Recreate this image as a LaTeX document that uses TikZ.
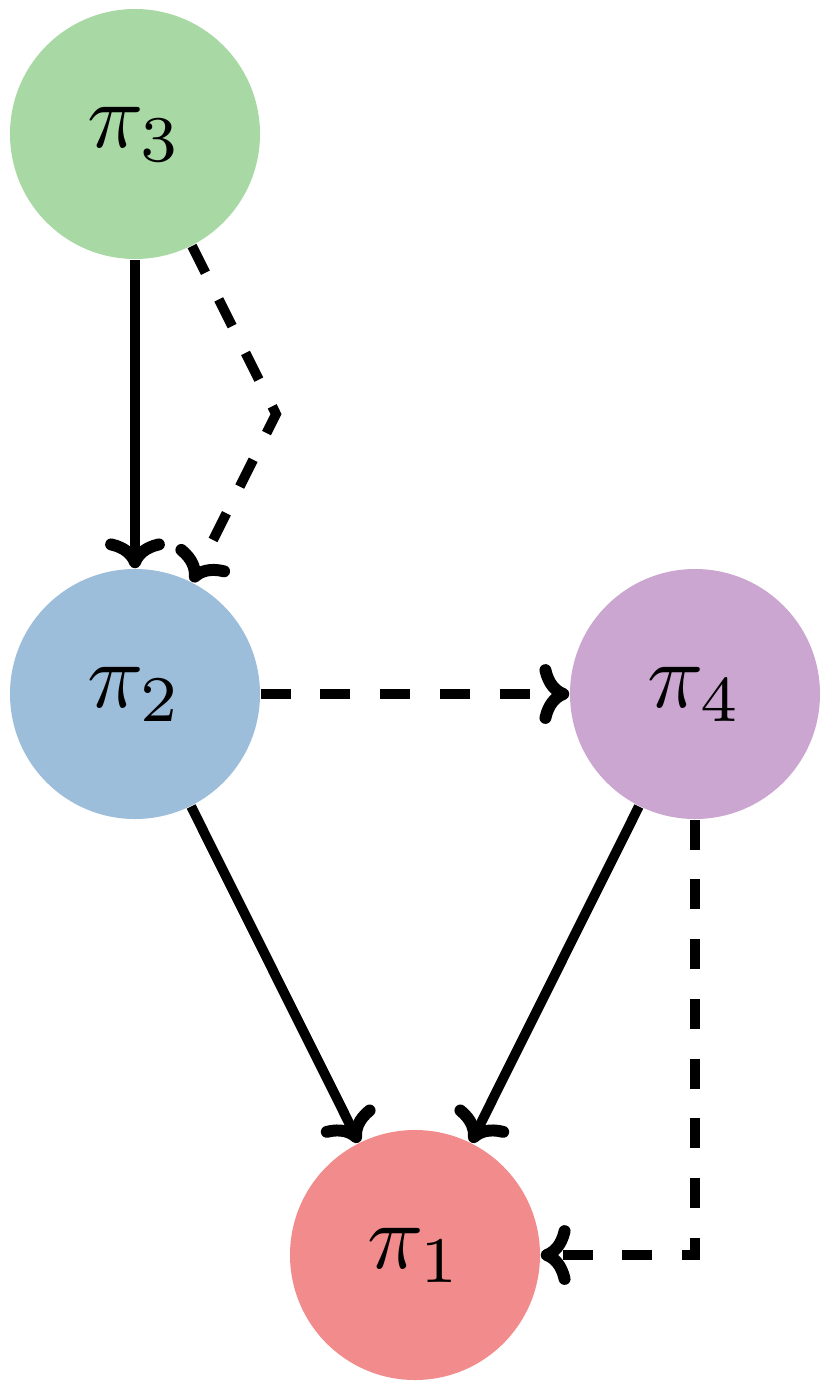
\documentclass[tikz,border=0pt]{standalone}
\usetikzlibrary{arrows.meta}
\definecolor{cgreen}{RGB}{168,216,164}
\definecolor{cblue}{RGB}{157,190,218}
\definecolor{cpurple}{RGB}{203,166,208}
\definecolor{cred}{RGB}{242,139,139}
\tikzset{
  pinode/.style={circle, minimum size=2.5cm, inner sep=0pt, draw=none},
  edge/.style={line width=2.8pt, -{Computer Modern Rightarrow[length=8.5pt,width=17pt,line width=3.4pt]}},
  dedge/.style={edge, dash pattern=on 8.5pt off 8.5pt},
}
\begin{document}
\begin{tikzpicture}
\useasboundingbox (0,0) rectangle (8.3,-13.91);
\node[pinode, fill=cgreen]  (p3) at (1.35,-1.34) {\scalebox{2.65}{$\pi_3$}};
\node[pinode, fill=cblue]   (p2) at (1.35,-6.94) {\scalebox{2.65}{$\pi_2$}};
\node[pinode, fill=cpurple] (p4) at (6.95,-6.94) {\scalebox{2.65}{$\pi_4$}};
\node[pinode, fill=cred]    (p1) at (4.15,-12.55) {\scalebox{2.65}{$\pi_1$}};
\coordinate (bend) at (2.76,-4.14);
\coordinate (corner) at (6.95,-12.55);
\draw[edge] (p3) -- (p2);
\draw[dedge] (p3.-63.5) -- (bend) -- (p2.63.5);
\draw[dedge] (p2) -- (p4);
\draw[edge] (p2) -- (p1);
\draw[edge] (p4) -- (p1);
\draw[dedge] (p4.south) -- (corner) -- (p1.east);
\end{tikzpicture}
\end{document}
